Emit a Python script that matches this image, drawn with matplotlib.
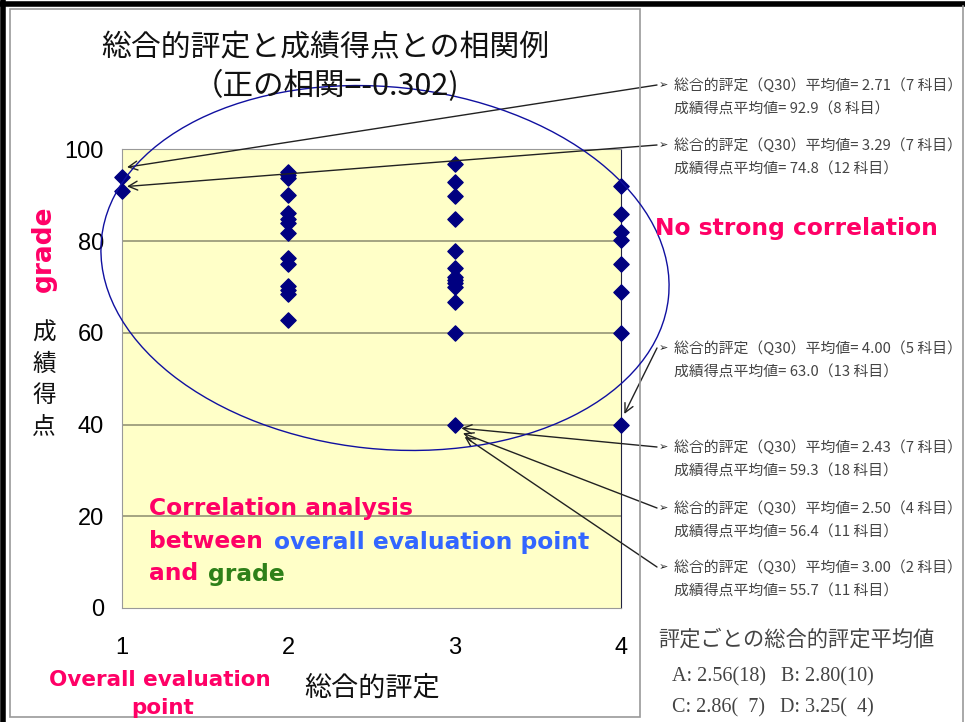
import matplotlib
matplotlib.use("Agg")
import matplotlib.pyplot as plt
from matplotlib import transforms
from matplotlib.patches import Ellipse, Rectangle
from matplotlib.lines import Line2D

# data
x1 = [1, 1]
y1 = [94.0, 91.0]
x2 = [2] * 14
y2 = [95.0, 94.4, 93.8, 90.0, 86.2, 84.9, 83.9, 81.8, 76.2, 75.1, 70.3, 69.3, 68.4, 62.8]
x3 = [3] * 13
y3 = [96.8, 92.9, 89.8, 84.8, 77.8, 74.2, 72.2, 71.5, 70.8, 70.0, 66.8, 60.0, 40.0]
x4 = [4] * 8
y4 = [91.9, 85.9, 82.0, 80.2, 75.0, 68.8, 60.0, 40.0]

xticks = [1, 2, 3, 4]
yticks = [0, 20, 40, 60, 80, 100]

notes = [
    ("総合的評定（Q30）平均値= 2.71（7 科目）", "成績得点平均値= 92.9（8 科目）"),
    ("総合的評定（Q30）平均値= 3.29（7 科目）", "成績得点平均値= 74.8（12 科目）"),
    ("総合的評定（Q30）平均値= 4.00（5 科目）", "成績得点平均値= 63.0（13 科目）"),
    ("総合的評定（Q30）平均値= 2.43（7 科目）", "成績得点平均値= 59.3（18 科目）"),
    ("総合的評定（Q30）平均値= 2.50（4 科目）", "成績得点平均値= 56.4（11 科目）"),
    ("総合的評定（Q30）平均値= 3.00（2 科目）", "成績得点平均値= 55.7（11 科目）"),
]
# where each note's arrow points (data coords)
note_targets = [(1.03, 96.1), (1.03, 91.9), (4.02, 42.3), (3.04, 39.2), (3.05, 38.1), (3.06, 37.3)]
note_rows = [85, 145, 348, 447, 508, 567]

summary_title = "評定ごとの総合的評定平均値"
summary_rows = ["A: 2.56(18)   B: 2.80(10)", "C: 2.86(  7)   D: 3.25(  4)"]

W, H = 965, 722
PINK = "#FF0066"
BLUE = "#3366FF"
GREEN = "#2E8019"
NAVY = "#000080"
JP = ["Noto Sans CJK JP", "DejaVu Sans"]

fig = plt.figure(figsize=(W / 100, H / 100), dpi=100)
# pixel coords, origin top-left
px = transforms.Affine2D().scale(1 / W, -1 / H).translate(0, 1) + fig.transFigure

# frames
fig.add_artist(Line2D([3, 3], [0, H], transform=px, color="black", lw=4))
fig.add_artist(Line2D([0, W], [4, 4], transform=px, color="black", lw=4))
fig.add_artist(Line2D([963, 963], [6, H], transform=px, color="#999999", lw=1.2))
fig.add_artist(Rectangle((10, 9), 630, 708, transform=px, fill=False,
                         edgecolor="#999999", lw=1.2))

ax = fig.add_axes([122 / W, 1 - 608 / H, 499 / W, (608 - 149.3) / H])
ax.set_facecolor("#FFFFC8")
ax.set_xlim(1, 4)
ax.set_ylim(0, 100)
for v in [20, 40, 60, 80]:
    ax.axhline(v, color="#8C8C6E", lw=1.1, zorder=1)
for s in ["left", "top", "bottom"]:
    ax.spines[s].set_color("#999999")
ax.spines["right"].set_color("#222244")

for xs, ys in [(x1, y1), (x2, y2), (x3, y3), (x4, y4)]:
    ax.scatter(xs, ys, marker="D", s=60, color=NAVY, zorder=3, clip_on=False)

ax.set_xticks(xticks)
ax.set_yticks(yticks)
ax.tick_params(length=0, labelsize=17)
for lab in ax.get_xticklabels() + ax.get_yticklabels():
    lab.set_family("Liberation Sans")
ax.tick_params(axis="y", pad=13)
ax.tick_params(axis="x", pad=21)

# titles and axis labels
fig.text(325, 48, "総合的評定と成績得点との相関例", transform=px, ha="center", va="center",
         fontsize=21.5, family=JP, color="#111111")
fig.text(326, 86, "（正の相関=-0.302)", transform=px, ha="center", va="center",
         fontsize=22, family=JP, color="#111111")
fig.text(372, 688, "総合的評定", transform=px, ha="center", va="center",
         fontsize=19.5, family=JP, color="#111111")
fig.text(44, 380, "成\n績\n得\n点", transform=px, ha="center", va="center",
         fontsize=17, family=JP, color="#111111", linespacing=1.45)
fig.text(44, 249, "grade", transform=px, ha="center", va="center", rotation=90,
         fontsize=19, weight="bold", color=PINK)

# ellipse
fig.add_artist(Ellipse((385, 268), 570, 362, angle=6, transform=px, fill=False,
                       edgecolor="#1010A0", lw=1.0))

# notes with arrows
for (l1, l2), tgt, row in zip(notes, note_targets, note_rows):
    ax.annotate("", xy=tgt, xycoords="data", xytext=(657, row), textcoords=px,
                arrowprops=dict(arrowstyle="->", color="#222222", lw=1.0,
                                mutation_scale=16, shrinkA=0, shrinkB=0),
                annotation_clip=False)
    fig.text(659, row, "➢", transform=px, ha="left", va="center", fontsize=8,
             family=JP, color="#222222")
    fig.text(674, row, l1, transform=px, ha="left", va="center", fontsize=10.7,
             family=JP, color="#444444")
    fig.text(674, row + 25, l2, transform=px, ha="left", va="center", fontsize=10.7,
             family=JP, color="#444444")

fig.text(658, 640, summary_title, transform=px, ha="left", va="center",
         fontsize=15.3, family=JP, color="#444444")
fig.text(672, 677, summary_rows[0], transform=px, ha="left", va="center",
         fontsize=14.5, family="Liberation Serif", color="#444444")
fig.text(672, 708, summary_rows[1], transform=px, ha="left", va="center",
         fontsize=14.5, family="Liberation Serif", color="#444444")

# pink / blue / green comments
fig.text(655, 229, "No strong correlation", transform=px, ha="left", va="center",
         fontsize=16.8, weight="bold", color=PINK)
fig.text(149, 509, "Correlation analysis", transform=px, ha="left", va="center",
         fontsize=16.8, weight="bold", color=PINK)
fig.text(149, 542, "between", transform=px, ha="left", va="center",
         fontsize=16.8, weight="bold", color=PINK)
fig.text(274, 542, "overall evaluation point", transform=px, ha="left", va="center",
         fontsize=16.8, weight="bold", color=BLUE)
fig.text(149, 574, "and", transform=px, ha="left", va="center",
         fontsize=16.8, weight="bold", color=PINK)
fig.text(208, 574, "grade", transform=px, ha="left", va="center",
         fontsize=16.8, weight="bold", color=GREEN)
fig.text(160, 680, "Overall evaluation", transform=px, ha="center", va="center",
         fontsize=15.5, weight="bold", color=PINK)
fig.text(163, 708, "point", transform=px, ha="center", va="center",
         fontsize=15.5, weight="bold", color=PINK)

fig.savefig("out.png", dpi=100)
